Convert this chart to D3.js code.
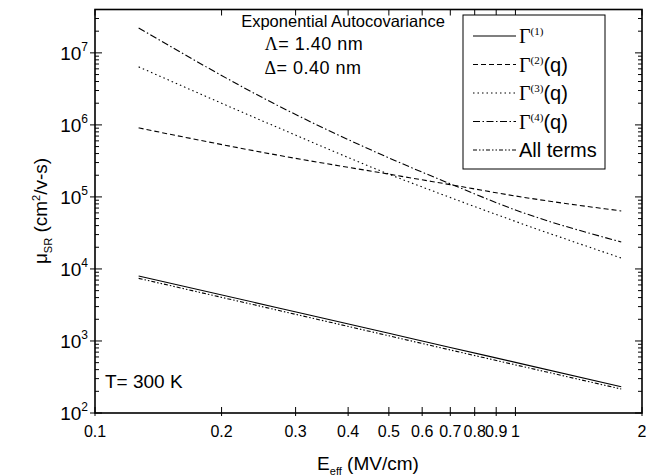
<!DOCTYPE html>
<html>
<head>
<meta charset="utf-8">
<script src="https://cdn.jsdelivr.net/npm/d3@7"></script>
<style>
  body { margin: 0; background: #fff; }
  text { font-family: "Liberation Sans", Arial, sans-serif; fill: #000; }
  .serif { font-family: "Liberation Serif", "Times New Roman", serif; }
</style>
</head>
<body>
<div class="visual"></div>
<script>
// field values (MV/cm) the curves were read at
const fieldValues = [0.127, 0.27, 0.5, 0.7, 1.0, 1.785];

// mobility for each scattering term (cm^2/V-s)
const gamma1   = [8.0e3, 2.92e3, 1.28e3, 813, 505, 232];
const gamma2   = [9.08e5, 3.83e5, 2.07e5, 1.48e5, 1.03e5, 6.39e4];
const gamma3   = [6.39e6, 9.38e5, 2.07e5, 9.8e4, 4.57e4, 1.42e4];
const gamma4   = [2.22e7, 1.90e6, 3.48e5, 1.52e5, 6.59e4, 2.37e4];
const allTerms = [7.4e3, 2.70e3, 1.18e3, 750, 466, 215];

const seriesSup = ["(1)", "(2)", "(3)", "(4)", ""];
const seriesTail = ["", "(q)", "(q)", "(q)", "All terms"];

const xTicks = [0.1, 0.2, 0.3, 0.4, 0.5, 0.6, 0.7, 0.8, 0.9, 1, 2];
const xTickLabels = ["0.1", "0.2", "0.3", "0.4", "0.5", "0.6", "0.7", "0.8", "0.9", "1", "2"];
const yExponents = [2, 3, 4, 5, 6, 7];

const width = 646, height = 476;
const plotL = 95, plotR = 642, plotT = 9.5, plotB = 413;

const svg = d3.select(".visual").append("svg")
  .attr("width", width)
  .attr("height", height);

const x = d3.scaleLog().domain([0.1, 2]).range([plotL, plotR]);
const y = d3.scaleLog().domain([100, 4e7]).range([plotB, plotT]);

const dashes = ["none", "5,3", "1.5,3", "7,2.5,1.5,2.5", "4,2,1.5,2,1.5,2"];
const series = [gamma1, gamma2, gamma3, gamma4, allTerms];

// curves
const line = d3.line()
  .x((d, i) => x(fieldValues[i]))
  .y(d => y(d))
  .curve(d3.curveMonotoneX);

svg.selectAll("path.curve")
  .data(series)
  .enter()
  .append("path")
  .attr("class", "curve")
  .attr("d", d => line(d))
  .attr("fill", "none")
  .attr("stroke", "#000")
  .attr("stroke-width", 1.1)
  .attr("stroke-dasharray", (d, i) => dashes[i]);

// ticks
const yMinor = [];
for (let e = 2; e <= 7; e++) {
  for (let m = 2; m <= 9; m++) {
    const v = m * Math.pow(10, e);
    if (v <= 4e7) yMinor.push(v);
  }
}

const tickG = svg.append("g").attr("stroke", "#000").attr("stroke-width", 1);

yMinor.forEach(v => {
  tickG.append("line").attr("x1", plotL).attr("x2", plotL + 4).attr("y1", y(v)).attr("y2", y(v));
  tickG.append("line").attr("x1", plotR).attr("x2", plotR - 4).attr("y1", y(v)).attr("y2", y(v));
});
yExponents.forEach(e => {
  const v = Math.pow(10, e);
  tickG.append("line").attr("x1", plotL - 5).attr("x2", plotL + 7).attr("y1", y(v)).attr("y2", y(v));
  tickG.append("line").attr("x1", plotR).attr("x2", plotR - 7).attr("y1", y(v)).attr("y2", y(v));
});
xTicks.forEach(v => {
  tickG.append("line").attr("x1", x(v)).attr("x2", x(v)).attr("y1", plotB + 3).attr("y2", plotB - 6);
  tickG.append("line").attr("x1", x(v)).attr("x2", x(v)).attr("y1", plotT).attr("y2", plotT + 6);
});

// frame
svg.append("rect")
  .attr("x", plotL).attr("y", plotT)
  .attr("width", plotR - plotL).attr("height", plotB - plotT)
  .attr("fill", "none")
  .attr("stroke", "#000")
  .attr("stroke-width", 1.6);

// x tick labels
svg.selectAll("text.xt")
  .data(xTicks)
  .enter()
  .append("text")
  .attr("class", "xt")
  .attr("x", d => x(d))
  .attr("y", plotB + 24)
  .attr("text-anchor", "middle")
  .style("font-size", "16px")
  .text((d, i) => xTickLabels[i]);

// y tick labels
yExponents.forEach(e => {
  const t = svg.append("text")
    .attr("x", plotL - 7)
    .attr("y", y(Math.pow(10, e)) + 7)
    .attr("text-anchor", "end")
    .style("font-size", "19px");
  t.append("tspan").text("10");
  t.append("tspan").attr("dy", -9).style("font-size", "12px").text(e);
});

// axis titles
const xt = svg.append("text")
  .attr("x", 368).attr("y", 470)
  .attr("text-anchor", "middle")
  .style("font-size", "19px");
xt.append("tspan").text("E");
xt.append("tspan").attr("dy", 5).style("font-size", "11px").text("eff");
xt.append("tspan").attr("dy", -5).text(" (MV/cm)");

const yt = svg.append("text")
  .attr("transform", "translate(47,211) rotate(-90)")
  .attr("text-anchor", "middle")
  .style("font-size", "19px");
yt.append("tspan").text("μ");
yt.append("tspan").attr("dy", 5).style("font-size", "11px").text("SR");
yt.append("tspan").attr("dy", -5).text(" (cm");
yt.append("tspan").attr("dy", -7).style("font-size", "11px").text("2");
yt.append("tspan").attr("dy", 7).text("/v-s)");

// annotations
svg.append("text").attr("x", 343).attr("y", 27).attr("text-anchor", "middle")
  .style("font-size", "16.5px").text("Exponential Autocovariance");
const lam = svg.append("text").attr("x", 314).attr("y", 50).attr("text-anchor", "middle")
  .style("font-size", "18px").style("letter-spacing", "0.5px");
lam.append("tspan").attr("class", "serif").text("Λ");
lam.append("tspan").text("= 1.40 nm");
const del = svg.append("text").attr("x", 313).attr("y", 74).attr("text-anchor", "middle")
  .style("font-size", "18px").style("letter-spacing", "0.5px");
del.append("tspan").attr("class", "serif").text("Δ");
del.append("tspan").text("= 0.40 nm");

svg.append("text").attr("x", 105).attr("y", 388).style("font-size", "19px").text("T= 300 K");

// legend
const legend = svg.append("g");
legend.append("rect")
  .attr("x", 463).attr("y", 15)
  .attr("width", 142).attr("height", 154)
  .attr("fill", "#fff")
  .attr("stroke", "#000")
  .attr("stroke-width", 1);

series.forEach((s, i) => {
  const ry = 36 + i * 28.5;
  legend.append("line")
    .attr("x1", 473).attr("x2", 516)
    .attr("y1", ry).attr("y2", ry)
    .attr("stroke", "#000")
    .attr("stroke-width", 1.1)
    .attr("stroke-dasharray", dashes[i]);
  const t = legend.append("text").attr("x", 519).attr("y", ry + 7).style("font-size", "20px");
  if (seriesSup[i]) {
    t.append("tspan").attr("class", "serif").text("Γ");
    t.append("tspan").attr("class", "serif").attr("dy", -8).style("font-size", "11px").text(seriesSup[i]);
    if (seriesTail[i]) t.append("tspan").attr("dy", 8).text(seriesTail[i]);
  } else {
    t.append("tspan").text(seriesTail[i]);
  }
});
</script>
</body>
</html>
